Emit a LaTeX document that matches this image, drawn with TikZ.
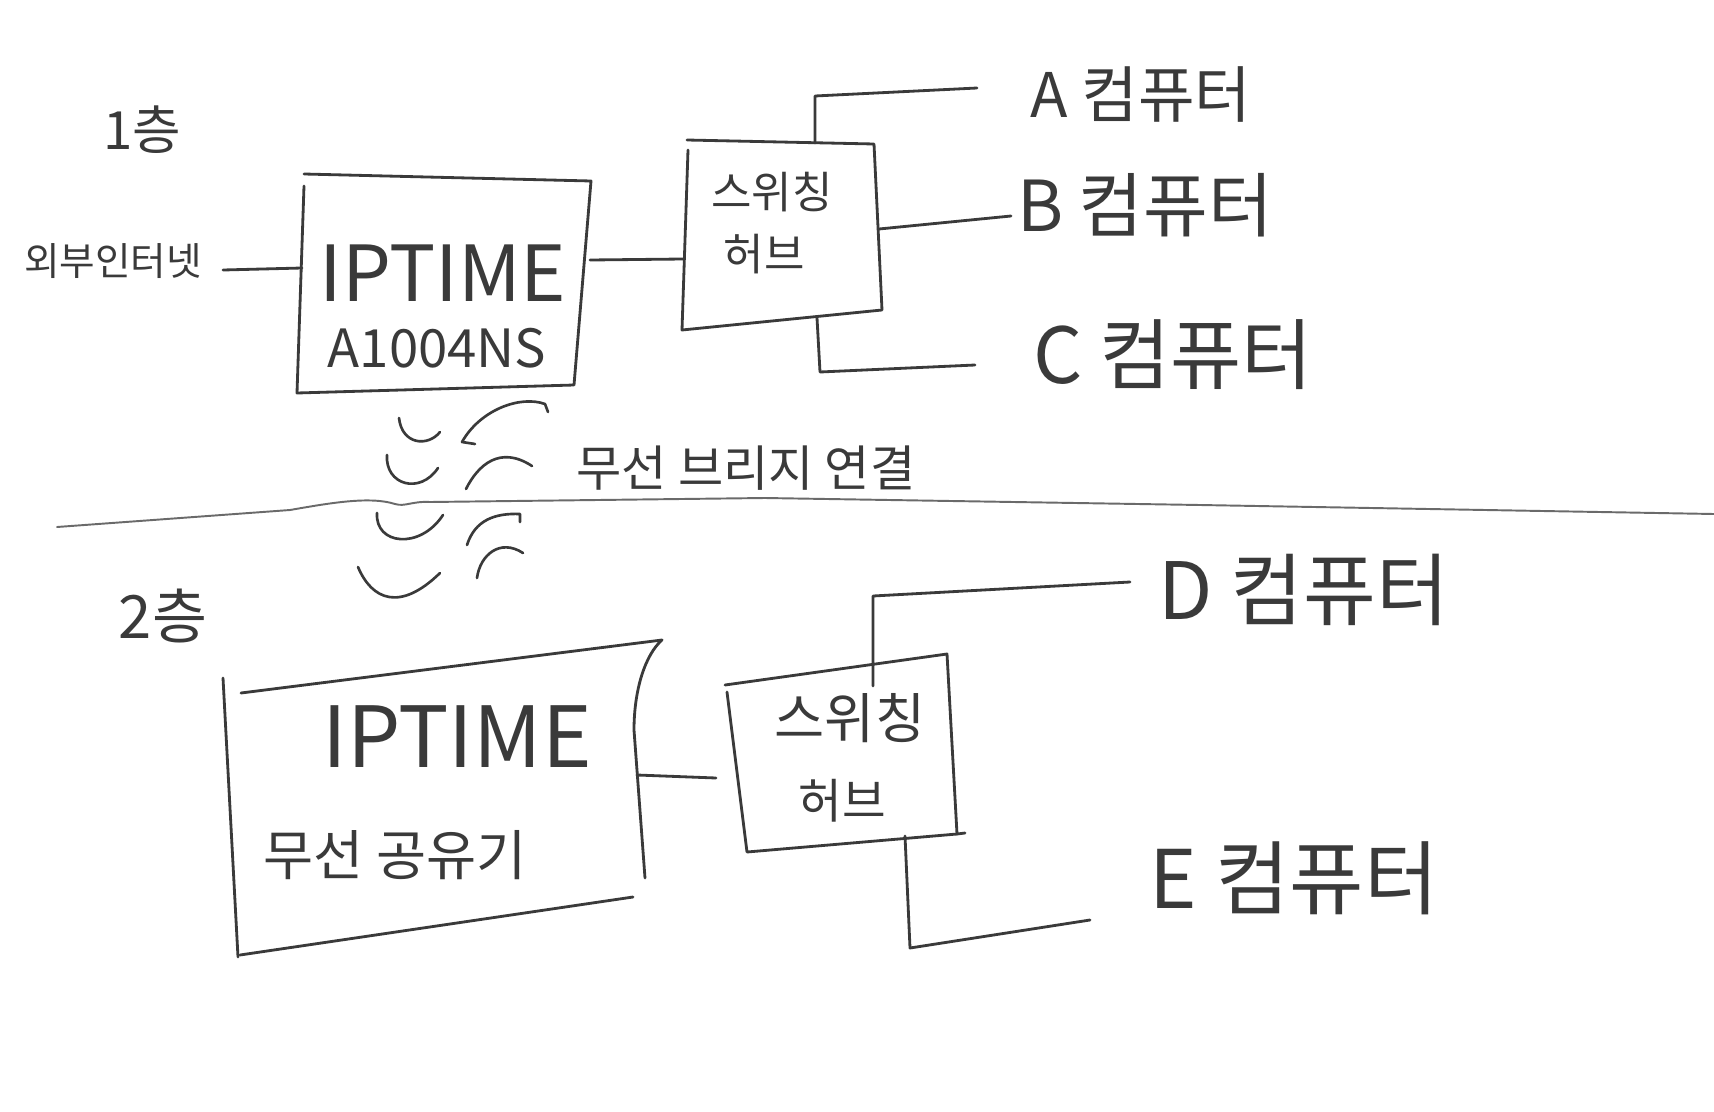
\documentclass[tikz,border=0pt]{standalone}
\usepackage{fontspec}
\setmainfont{Noto Sans CJK KR}
\definecolor{ink}{HTML}{3A3A3A}
\definecolor{rulegray}{HTML}{6A6A6A}
\newcommand{\fsz}[1]{\fontsize{#1}{#1}\selectfont}
\begin{document}
\begin{tikzpicture}[x=0.02cm,y=-0.02cm,
  pen/.style={draw=ink,line width=1.6pt,line cap=round,line join=round},
  wire/.style={pen},
  wave/.style={pen,line width=1.5pt},
  lbl/.style={text=ink,inner sep=0pt,anchor=center},
  divider/.style={draw=rulegray,line width=1.1pt,line cap=round,line join=round}]
\fill[white] (0,0) rectangle (1714,1112);
\useasboundingbox (0,0) rectangle (1714,1112);

% ---------- floor labels ----------
\node[lbl] (fl1) at (142,130) {\fsz{30}1층};
\node[lbl] (fl2) at (163,616) {\fsz{34}2층};

% ---------- floor 1 ----------
\node[lbl] (inet) at (113,261) {\fsz{22}외부인터넷};

% router 1 box
\coordinate (r1TL) at (304,174);
\coordinate (r1TR) at (591,181);
\coordinate (r1BR) at (574,385);
\coordinate (r1BL) at (297,393);
\draw[pen] (r1TL) -- (r1TR) -- (r1BR) -- (r1BL) -- (304,186);
\node[lbl] (r1a) at (443,273) {\fsz{44}IPTIME};
\node[lbl] (r1b) at (437,348) {\fsz{30}A1004NS};

% hub 1 box
\coordinate (h1TL) at (687,140);
\coordinate (h1TR) at (874,144);
\coordinate (h1BR) at (882,310);
\coordinate (h1BL) at (682,330);
\draw[pen] (h1TL) -- (h1TR) -- (h1BR) -- (h1BL) -- (688,150);
\node[lbl] (h1a) at (772,192) {\fsz{25}스위칭};
\node[lbl] (h1b) at (764,254) {\fsz{25}허브};

% computers A B C
\node[lbl] (pcA) at (1141,94) {\fsz{35}A 컴퓨터};
\node[lbl] (pcB) at (1145,205) {\fsz{40}B 컴퓨터};
\node[lbl] (pcC) at (1173,355) {\fsz{44}C 컴퓨터};

% connectors floor 1
\coordinate (inetE) at (223,270);
\coordinate (r1W) at (302,268);
\coordinate (r1E) at (590,260);
\coordinate (h1W) at (683,259);
\coordinate (h1N) at (815,143);
\coordinate (h1E) at (879,229);
\coordinate (h1S) at (817,318);
\coordinate (aW) at (977,88);
\coordinate (bW) at (1011,216);
\coordinate (cW) at (975,365);
\draw[wire] (inetE) -- (r1W);
\draw[wire] (r1E) -- (h1W);
\draw[wire] (h1N) -- ++(0,-47) -- (aW);
\draw[wire] (h1E) -- (bW);
\draw[wire] (h1S) -- ++(3,54) -- (cW);

% ---------- divider ----------
\draw[divider] (57,527) -- (290,510)
  .. controls (330,503) and (370,496) .. (395,504)
  .. controls (405,507) and (412,501) .. (430,502)
  -- (765,498) -- (1200,505) -- (1714,514);

% ---------- wireless bridge ----------
\draw[wave] (399,418) .. controls (402,445) and (428,447) .. (440,432);
\draw[wave] (387,455) .. controls (385,485) and (420,495) .. (438,468);
\draw[wave] (377,513) .. controls (375,545) and (420,550) .. (443,515);
\draw[wave] (358,567) .. controls (372,600) and (400,612) .. (440,573);
\draw[wave] (475,444) -- (462,442) .. controls (480,410) and (520,395) .. (545,404) -- (548,412);
\draw[wave] (466,489) .. controls (478,465) and (500,445) .. (532,466);
\draw[wave] (467,545) .. controls (475,520) and (495,513) .. (520,514) -- (520,522);
\draw[wave] (477,578) .. controls (480,555) and (500,538) .. (523,553);
\node[lbl] (bridge) at (746,468) {\fsz{28}무선 브리지 연결};

% ---------- floor 2 ----------
% router 2 box
\coordinate (r2TL) at (241,693);
\coordinate (r2TR) at (662,640);
\coordinate (r2BR) at (633,897);
\coordinate (r2BL) at (240,955);
\draw[pen] (r2TL) -- (r2TR) .. controls (645,655) and (634,690) .. (634,730) -- (645,878);
\draw[pen] (r2BR) -- (r2BL);
\draw[pen] (223,678) -- (238,957);
\node[lbl] (r2a) at (457,737) {\fsz{48}IPTIME};
\node[lbl] (r2b) at (395,855) {\fsz{31}무선 공유기};

% hub 2 box
\coordinate (h2TL) at (725,685);
\coordinate (h2TR) at (947,654);
\coordinate (h2BR) at (957,834);
\coordinate (h2BL) at (747,852);
\draw[pen] (h2TL) -- (h2TR) -- (h2BR) -- (965,833);
\draw[pen] (h2BR) -- (h2BL) -- (727,692);
\node[lbl] (h2a) at (850,718) {\fsz{31}스위칭};
\node[lbl] (h2b) at (842,801) {\fsz{27}허브};

% computers D E
\node[lbl] (pcD) at (1304,590) {\fsz{45}D 컴퓨터};
\node[lbl] (pcE) at (1294,878) {\fsz{46}E 컴퓨터};

% connectors floor 2
\coordinate (r2E) at (637,775);
\coordinate (h2W) at (716,778);
\coordinate (h2N) at (873,686);
\coordinate (h2S) at (905,836);
\coordinate (dW) at (1130,582);
\coordinate (eW) at (1090,920);
\draw[wire] (r2E) -- (h2W);
\draw[wire] (h2N) -- ++(0,-90) -- (dW);
\draw[wire] (h2S) -- ++(5,112) -- (eW);
\end{tikzpicture}
\end{document}
